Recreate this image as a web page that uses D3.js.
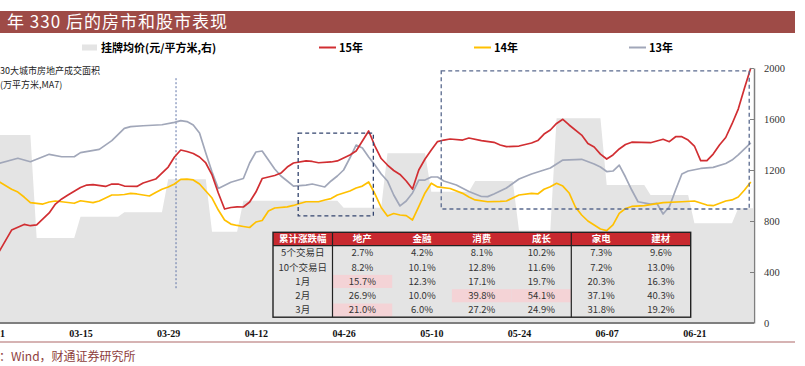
<!DOCTYPE html>
<html><head><meta charset="utf-8">
<script src="https://cdn.jsdelivr.net/npm/d3@7"></script>
<style>body{margin:0;background:#fff}svg{display:block}</style>
</head><body><svg id="c" width="805" height="366"></svg>
<script>
// ---------------- DATA ----------------
const priceDates  = ["03-01","03-07","03-08","03-14","03-15","03-21","03-22","03-28","03-29","04-04","04-05","04-09","04-10","04-25","04-26","05-02","05-03","05-09","05-10","05-16","05-17","05-23","05-24","05-29","05-30","06-06","06-07","06-13","06-14","06-20","06-21","06-27","06-28","07-01"];
const priceValues = [1475,1475,667,667,834,834,868,868,1127,1127,716,716,959,959,904,904,1331,1331,1030,1030,1114,1114,725,725,1605,1605,1082,1082,1004,1004,782,782,900,900];

const y15Dates = ["03-02","03-04","03-06","03-07","03-08","03-09","03-10","03-11","03-12","03-13","03-15","03-16","03-17","03-19","03-20","03-21","03-22","03-24","03-25","03-27","03-29","03-30","03-31","04-01","04-02","04-03","04-04","04-05","04-06","04-07","04-08","04-09","04-10","04-11","04-12","04-13","04-15","04-16","04-17","04-18","04-20","04-21","04-22","04-24","04-25","04-26","04-27","04-28","04-29","04-30","05-01","05-02","05-03","05-04","05-05","05-06","05-07","05-08","05-09","05-10","05-11","05-12","05-13","05-15","05-16","05-18","05-20","05-21","05-22","05-24","05-26","05-27","05-28","05-29","05-30","05-31","06-01","06-03","06-04","06-05","06-06","06-07","06-08","06-09","06-10","06-11","06-14","06-16","06-17","06-18","06-19","06-20","06-21","06-22","06-23","06-24","06-25","06-26","06-27","06-28","06-29","06-30"];
const y15Values = [559,729,773,763,769,816,863,933,973,1004,1063,1082,1086,1071,1090,1090,1074,1071,1098,1129,1223,1302,1357,1345,1329,1302,1255,1161,1020,894,906,911,910,949,1027,1133,1157,1176,1223,1255,1271,1267,1257,1263,1271,1294,1318,1349,1427,1506,1388,1290,1239,1196,1165,1114,1051,1200,1286,1357,1423,1435,1443,1435,1451,1431,1417,1396,1383,1388,1412,1431,1482,1514,1565,1598,1553,1474,1408,1380,1325,1286,1318,1365,1400,1418,1414,1441,1422,1461,1461,1435,1388,1274,1274,1325,1396,1455,1561,1678,1843,2000];

const y14Dates = ["03-02","03-04","03-05","03-06","03-07","03-09","03-10","03-11","03-12","03-14","03-15","03-17","03-18","03-19","03-20","03-21","03-22","03-23","03-24","03-25","03-26","03-27","03-28","03-29","03-30","03-31","04-01","04-02","04-03","04-04","04-05","04-06","04-07","04-08","04-09","04-10","04-11","04-12","04-13","04-14","04-15","04-17","04-18","04-19","04-20","04-22","04-23","04-24","04-25","04-26","04-27","04-28","04-29","04-30","05-01","05-02","05-03","05-04","05-05","05-06","05-07","05-08","05-09","05-10","05-11","05-13","05-15","05-16","05-17","05-19","05-21","05-22","05-24","05-26","05-27","05-28","05-29","05-30","05-31","06-01","06-02","06-03","06-04","06-05","06-06","06-07","06-08","06-09","06-10","06-11","06-13","06-16","06-19","06-21","06-23","06-24","06-26","06-27","06-28","06-29","06-30"];
const y14Values = [1108,1049,1027,988,944,933,949,957,951,939,959,944,957,980,1004,1004,1008,1017,1012,1004,996,1024,1049,1067,1090,1127,1129,1122,1090,1035,980,886,808,776,765,757,749,792,804,878,902,911,922,937,951,951,965,976,1004,1020,1035,1059,1074,1106,1012,906,839,859,847,842,808,912,1020,1096,1067,1055,1017,988,965,951,954,957,1004,1017,1012,1049,1069,1096,1074,1020,910,847,800,769,737,725,769,860,898,914,920,944,951,957,925,920,957,965,988,1043,1106];

const y13Dates = ["03-02","03-05","03-07","03-10","03-12","03-14","03-15","03-18","03-20","03-22","03-23","03-25","03-28","03-30","03-31","04-01","04-02","04-03","04-04","04-05","04-06","04-08","04-10","04-11","04-12","04-13","04-14","04-15","04-16","04-17","04-18","04-20","04-21","04-23","04-24","04-25","04-26","04-27","04-28","04-29","04-30","05-01","05-02","05-03","05-04","05-05","05-06","05-07","05-08","05-09","05-10","05-11","05-12","05-14","05-16","05-18","05-19","05-20","05-22","05-24","05-26","05-29","05-31","06-03","06-05","06-06","06-07","06-08","06-09","06-10","06-11","06-12","06-14","06-15","06-16","06-17","06-18","06-19","06-20","06-22","06-24","06-26","06-27","06-28","06-29","06-30"];
const y13Values = [1252,1292,1265,1323,1304,1304,1336,1362,1430,1527,1540,1547,1555,1574,1587,1580,1553,1490,1333,1184,1055,1104,1133,1255,1341,1349,1278,1208,1153,1114,1074,1082,1090,1067,1114,1153,1200,1294,1396,1373,1302,1239,1169,1114,1004,918,957,1020,1121,1121,1145,1145,1114,1082,1031,992,991,1012,1059,1129,1169,1216,1278,1284,1247,1224,1188,1192,1239,1145,1043,951,933,939,855,912,1043,1169,1192,1212,1221,1251,1278,1318,1365,1412];

const xTickLabels = ["03-01","03-15","03-29","04-12","04-26","05-10","05-24","06-07","06-21"];
const yTicks = [0,400,800,1200,1600,2000];

const seriesNames = ["15年","14年","13年"];
const areaName = "挂牌均价(元/平方米,右)";

const tableHeader = ["累计涨跌幅","地产","金融","消费","成长","家电","建材"];
const rowLabels = ["5个交易日","10个交易日","1月","2月","3月"];
const row5d  = [2.7,4.2,8.1,10.2,7.3,9.6];
const row10d = [8.2,10.1,12.8,11.6,7.2,13.0];
const rowM1  = [15.7,12.3,17.1,19.7,20.3,16.3];
const rowM2  = [26.9,10.0,39.8,54.1,37.1,40.3];
const rowM3  = [21.0,6.0,27.2,24.9,31.8,19.2];
const highlights = [[2,0],[4,0],[3,2],[3,3]]; // [row, col]

// annotations
const policyDate = "2015-03-30T06:00";
const box1 = ["2015-04-18T18:00","2015-04-30T18:00",840,1490];
const box2 = ["2015-05-11T14:00","2015-06-29T18:00",894,1978];

// ---------------- DRAW ----------------
const parse = s => d3.timeParse("%Y-%m-%d")("2015-" + s);
const cjk = "'Noto Sans CJK SC', sans-serif";
const serif = "'Liberation Serif', 'Times New Roman', serif";
const C = {red:"#D12E32", yellow:"#FFC000", gray:"#A1A7B9", area:"#E4E4E4", title:"#9E4B47"};

const svg = d3.select("#c");
const plotL = 0, plotR = 753, plotT = 60, plotB = 323;

const x = d3.scaleTime().domain([parse("03-15"), parse("06-21")]).range([80.5, 694.4]);
const y = d3.scaleLinear().domain([0, 2000]).range([plotB, 68]);

// title bar
svg.append("rect").attr("x",0).attr("y",11).attr("width",795).attr("height",22).attr("fill",C.title);
svg.append("text").attr("x",7).attr("y",28).attr("fill","#fff")
  .style("font",`17px ${cjk}`).style("letter-spacing","1px").text("年 330 后的房市和股市表现");

// legend
const lg = svg.append("g").style("font",`bold 11px ${cjk}`);
lg.append("rect").attr("x",82).attr("y",44.5).attr("width",15).attr("height",6).attr("fill",C.area);
lg.append("text").attr("x",101).attr("y",51.5).text(areaName);
[[319,C.red],[474,C.yellow],[629,C.gray]].forEach(([lx,col],i)=>{
  lg.append("line").attr("x1",lx).attr("x2",lx+17).attr("y1",47.5).attr("y2",47.5).attr("stroke",col).attr("stroke-width",2);
  lg.append("text").attr("x",lx+20).attr("y",51.5).text(seriesNames[i]);
});

// left axis label
svg.append("text").attr("x",0).attr("y",74).style("font",`9px ${cjk}`).attr("fill","#222").text("30大城市房地产成交面积");
svg.append("text").attr("x",0).attr("y",88).style("font",`9px ${cjk}`).attr("fill","#222").text("(万平方米,MA7)");

// clip
svg.append("clipPath").attr("id","clip").append("rect").attr("x",plotL).attr("y",plotT).attr("width",plotR-plotL).attr("height",plotB-plotT);
const plot = svg.append("g").attr("clip-path","url(#clip)");

// area
const areaData = priceDates.map((d,i)=>({date:parse(d), v:priceValues[i]}));
plot.append("path").datum(areaData).attr("fill",C.area)
  .attr("d", d3.area().x(d=>x(d.date)).y0(y(0)).y1(d=>y(d.v)));

// policy line
plot.append("line").attr("x1",x(d3.isoParse(policyDate))).attr("x2",x(d3.isoParse(policyDate)))
  .attr("y1",y(1920)).attr("y2",y(260)).attr("stroke","#5F74A8").attr("stroke-width",1).attr("stroke-dasharray","2,2");

// lines
const line = d3.line().x(d=>x(d.date)).y(d=>y(d.v));
[[y13Dates,y13Values,C.gray],[y14Dates,y14Values,C.yellow],[y15Dates,y15Values,C.red]].forEach(([ds,vs,col])=>{
  const data = ds.map((d,i)=>({date:parse(d), v:vs[i]}));
  plot.append("path").datum(data).attr("fill","none").attr("stroke",col).attr("stroke-width",1.7)
    .attr("stroke-linejoin","round").attr("d",line);
});

// dashed boxes
[[box1,"#33446E"],[box2,"#5A6A8E"]].forEach(([b,col])=>{
  const x0 = x(d3.isoParse(b[0])), x1 = x(d3.isoParse(b[1]));
  svg.append("rect").attr("x",x0).attr("y",y(b[3])).attr("width",x1-x0).attr("height",y(b[2])-y(b[3]))
    .attr("fill","none").attr("stroke",col).attr("stroke-width",1.3).attr("stroke-dasharray","4,3");
});

// table
const tL = 273, tT = 232.3, hH = 13.4, rH = 14.3, c0W = 59.5, cW = 59.7;
const tg = svg.append("g");
const tW = c0W + cW*6;
const colX = i => i===0 ? tL : tL + c0W + (i-1)*cW;
const colW = i => i===0 ? c0W : cW;
tg.append("rect").attr("x",tL).attr("y",tT).attr("width",tW).attr("height",hH).attr("fill","#C8292F");
highlights.forEach(([r,c])=>{
  tg.append("rect").attr("x",colX(c+1)).attr("y",tT+hH+r*rH+0.6).attr("width",cW).attr("height",rH-1.2).attr("fill","#F4D3D6");
});
tableHeader.forEach((h,i)=>{
  tg.append("text").attr("x",colX(i)+colW(i)/2).attr("y",tT+hH/2+3.4).attr("text-anchor","middle")
    .attr("fill","#fff").style("font",`bold 9.5px ${cjk}`).text(h);
});
const rows = [row5d,row10d,rowM1,rowM2,rowM3];
rows.forEach((vals,r)=>{
  const cy = tT+hH+r*rH+rH/2+3.4;
  tg.append("text").attr("x",colX(0)+c0W/2).attr("y",cy).attr("text-anchor","middle").attr("fill","#333")
    .style("font",`9.5px ${cjk}`).text(rowLabels[r]);
  vals.forEach((v,c)=>{
    tg.append("text").attr("x",colX(c+1)+cW/2).attr("y",cy).attr("text-anchor","middle").attr("fill","#333")
      .style("font",`9.5px ${cjk}`).text(v.toFixed(1)+"%");
  });
});
const tB = tT+hH+rH*5;
tg.append("rect").attr("x",tL).attr("y",tT).attr("width",tW).attr("height",tB-tT).attr("fill","none").attr("stroke","#222").attr("stroke-width",1.4);
tg.append("line").attr("x1",tL).attr("x2",tL+tW).attr("y1",tT+hH).attr("y2",tT+hH).attr("stroke","#222").attr("stroke-width",1.2);
[1,5].forEach(i=>{
  tg.append("line").attr("x1",colX(i)).attr("x2",colX(i)).attr("y1",tT).attr("y2",tB).attr("stroke","#222").attr("stroke-width",1.2);
});

// right axis
const ya = svg.append("g").attr("transform",`translate(754,0)`)
  .call(d3.axisRight(y).tickValues(yTicks).tickSize(-4).tickSizeOuter(0).tickPadding(10).tickFormat(d3.format("d")));
ya.select(".domain").attr("stroke","#7F7F7F").attr("stroke-width",1.5);
ya.selectAll(".tick line").attr("stroke","#7F7F7F");
ya.selectAll("text").style("font",`10.5px ${serif}`).attr("fill","#333");

// bottom axis
svg.append("line").attr("x1",0).attr("x2",754).attr("y1",plotB).attr("y2",plotB).attr("stroke","#7F7F7F").attr("stroke-width",2);
const xa = svg.append("g").attr("transform",`translate(0,${plotB})`)
  .call(d3.axisBottom(x).tickValues(xTickLabels.map(parse)).tickSize(0).tickPadding(7).tickFormat(d3.timeFormat("%m-%d")));
xa.select(".domain").remove();
xa.selectAll("text").style("font",`bold 10px ${serif}`).attr("fill","#111");

// footer
svg.append("line").attr("x1",0).attr("x2",795).attr("y1",342).attr("y2",342).attr("stroke","#C99A9A").attr("stroke-width",1.5);
svg.append("text").attr("x",-1).attr("y",361).attr("fill","#8E3E3C").style("font",`12px ${cjk}`).text("：Wind，财通证券研究所");
</script></body></html>
